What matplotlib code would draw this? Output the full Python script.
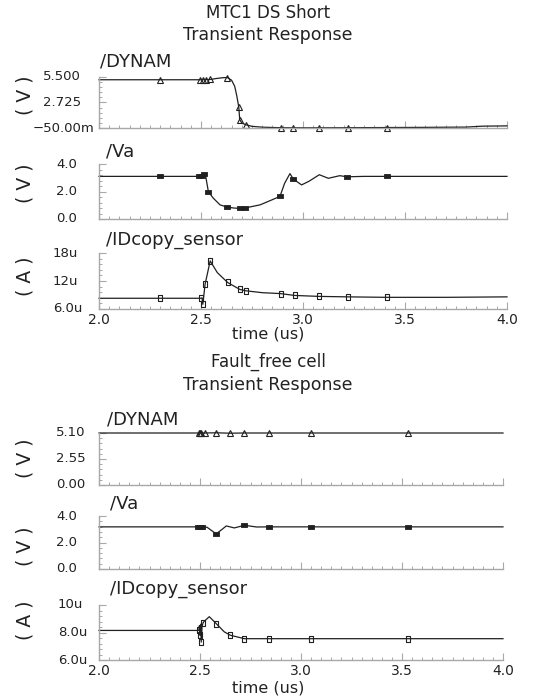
import numpy as np
import matplotlib.pyplot as plt
from matplotlib.ticker import MultipleLocator, AutoMinorLocator

W, H = 536, 697

# --- MTC1 DS Short ---
t_dyn1 = [2.0, 2.30, 2.495, 2.511, 2.525, 2.544, 2.58, 2.61, 2.629, 2.65, 2.665, 2.675, 2.685,
          2.69, 2.70, 2.72, 2.75, 2.80, 2.89, 2.95, 3.08, 3.22, 3.41, 3.60, 3.80, 3.88, 4.0]
v_dyn1 = [5.2, 5.2, 5.2, 5.2, 5.21, 5.23, 5.35, 5.43, 5.44, 5.15, 4.5, 3.5, 2.24,
          0.85, 0.5, 0.3, 0.13, 0.04, -0.02, -0.03, -0.03, -0.02, 0.0, 0.02, 0.05, 0.15, 0.18]
mk_dyn1 = [1, 2, 3, 4, 5, 8, 12, 13, 15, 18, 19, 20, 21, 22]

t_va1 = [2.0, 2.30, 2.49, 2.505, 2.515, 2.522, 2.536, 2.56, 2.593, 2.627, 2.66, 2.69, 2.715,
         2.79, 2.887, 2.91, 2.936, 2.953, 2.993, 3.03, 3.08, 3.124, 3.18, 3.217, 3.30, 3.41, 4.0]
v_va1 = [3.1, 3.1, 3.1, 3.15, 3.25, 3.2, 2.0, 1.52, 1.03, 0.87, 0.8, 0.77, 0.8,
         1.03, 1.64, 2.6, 3.3, 2.9, 2.48, 2.75, 3.22, 2.96, 3.15, 3.07, 3.1, 3.1, 3.1]
mk_va1 = [1, 2, 3, 4, 6, 9, 11, 12, 14, 17, 23, 25]

t_id1 = [2.0, 2.30, 2.50, 2.505, 2.509, 2.513, 2.52, 2.545, 2.58, 2.63, 2.69, 2.72, 2.80,
         2.89, 2.96, 3.08, 3.22, 3.41, 3.70, 4.0]
v_id1 = [8.3, 8.3, 8.3, 8.4, 7.0, 8.6, 11.3, 16.3, 13.8, 11.7, 10.2, 9.9, 9.5,
         9.3, 8.9, 8.7, 8.6, 8.5, 8.5, 8.6]
mk_id1 = [1, 2, 4, 6, 7, 9, 10, 11, 13, 14, 15, 16, 17]

# --- Fault_free cell ---
t_dyn2 = [2.0, 2.495, 2.50, 2.505, 2.525, 2.58, 2.65, 2.72, 2.84, 3.05, 3.53, 4.0]
v_dyn2 = [5.1, 5.1, 5.1, 5.1, 5.1, 5.12, 5.08, 5.1, 5.1, 5.1, 5.1, 5.1]
mk_dyn2 = [1, 2, 3, 4, 5, 6, 7, 8, 9, 10]

t_va2 = [2.0, 2.49, 2.50, 2.51, 2.535, 2.58, 2.61, 2.63, 2.67, 2.72, 2.78, 2.84, 3.05, 3.53, 4.0]
v_va2 = [3.18, 3.18, 3.18, 3.18, 3.15, 2.65, 3.0, 3.25, 3.1, 3.3, 3.17, 3.18, 3.18, 3.18, 3.18]
mk_va2 = [1, 2, 3, 5, 9, 11, 12, 13]

t_id2 = [2.0, 2.494, 2.497, 2.50, 2.503, 2.506, 2.51, 2.515, 2.52, 2.546, 2.58, 2.62, 2.65,
         2.72, 2.84, 3.05, 3.53, 4.0]
v_id2 = [8.15, 8.15, 8.5, 7.8, 8.6, 7.3, 8.4, 8.7, 8.8, 9.15, 8.65, 8.05, 7.8,
         7.55, 7.55, 7.55, 7.55, 7.55]
mk_id2 = [1, 3, 5, 7, 10, 12, 13, 14, 15, 16]

x_ticks = [2.0, 2.5, 3.0, 3.5, 4.0]
x_labels = ['2.0', '2.5', '3.0', '3.5', '4.0']

SPINE = '#a8a8a8'
LINE = '#202020'
TXT = '#222222'

fig = plt.figure(figsize=(W / 100, H / 100), dpi=100)


def box(x0, y0, x1, y1):
    return [x0 / W, 1 - y1 / H, (x1 - x0) / W, (y1 - y0) / H]


rect_mk = [(-1.6, -1), (1.6, -1), (1.6, 1), (-1.6, 1), (-1.6, -1)]
tall_mk = [(-1, -1.6), (1, -1.6), (1, 1.6), (-1, 1.6), (-1, -1.6)]


def panel(px, t, v, mk, kind, ylim, yticks, ylabels, lab_x, name, name_xy, unit, unit_y, xlab):
    ax = fig.add_axes(box(*px))
    if kind == 'tri':
        ax.plot(t, v, color=LINE, lw=0.9, marker='^', ms=4.5, mfc='none', mec=LINE,
                mew=0.8, markevery=mk, clip_on=False)
    elif kind == 'rect':
        ax.plot(t, v, color=LINE, lw=0.9, marker=rect_mk, ms=3.8, mfc=LINE, mec=LINE,
                mew=0.6, markevery=mk, clip_on=False)
    else:
        ax.plot(t, v, color=LINE, lw=0.9, marker=tall_mk, ms=4.2, mfc='none', mec=LINE,
                mew=0.8, markevery=mk, clip_on=False)
    ax.set_xlim(2.0, 4.0)
    ax.set_ylim(*ylim)
    for s in ['top', 'right']:
        ax.spines[s].set_visible(False)
    for s in ['left', 'bottom']:
        ax.spines[s].set_color(SPINE)
        ax.spines[s].set_linewidth(1.0)
    ax.set_xticks(x_ticks)
    ax.xaxis.set_minor_locator(MultipleLocator(0.05))
    ax.set_yticks(yticks)
    ax.yaxis.set_minor_locator(AutoMinorLocator(5))
    ax.tick_params(which='major', direction='in', length=5, width=0.8, color=SPINE)
    ax.tick_params(which='minor', direction='in', length=2.5, width=0.7, color=SPINE)
    ax.set_yticklabels([])
    for val, lab, lx in zip(yticks, ylabels, lab_x):
        ax.annotate(lab, xy=(lx, val), xycoords=('figure pixels', 'data'),
                    ha='left', va='center', fontsize=9.5, color=TXT, annotation_clip=False)
    if xlab:
        ax.set_xticklabels(x_labels, fontsize=10, color=TXT)
        ax.tick_params(axis='x', pad=3)
    else:
        ax.set_xticklabels([])
    fig.text(name_xy[0] / W, 1 - name_xy[1] / H, name, fontsize=13, color=TXT,
             ha='left', va='center')
    fig.text(25 / W, 1 - unit_y / H, unit, fontsize=13.5, color=TXT, rotation=90,
             ha='center', va='center')
    return ax


# top block
fig.text(268 / W, 1 - 13 / H, 'MTC1 DS Short', ha='center', va='center', fontsize=12, color=TXT)
fig.text(268 / W, 1 - 35 / H, 'Transient Response', ha='center', va='center', fontsize=12.5, color=TXT)
panel((99, 77, 507, 128), t_dyn1, v_dyn1, mk_dyn1, 'tri', (-0.05, 5.5),
      [5.5, 2.725, -0.05], ['5.500', '2.725', '\u221250.00m'], [43, 43, 33],
      '/DYNAM', (100, 61), '( V )', 95, False)
panel((99, 164, 507, 219), t_va1, v_va1, mk_va1, 'rect', (0.0, 4.0),
      [4.0, 2.0, 0.0], ['4.0', '2.0', '0.0'], [56, 56, 56],
      '/Va', (106, 152), '( V )', 183, False)
panel((99, 253, 507, 309), t_id1, v_id1, mk_id1, 'tall', (6.0, 18.0),
      [18.0, 12.0, 6.0], ['18u', '12u', '6.0u'], [53, 53, 53],
      '/IDcopy_sensor', (106, 240), '( A )', 276, True)
fig.text(268 / W, 1 - 334 / H, 'time (us)', ha='center', va='center', fontsize=11.5, color=TXT)

# bottom block
fig.text(268 / W, 1 - 362 / H, 'Fault_free cell', ha='center', va='center', fontsize=12, color=TXT)
fig.text(268 / W, 1 - 385 / H, 'Transient Response', ha='center', va='center', fontsize=12.5, color=TXT)
panel((99, 433, 503, 485), t_dyn2, v_dyn2, mk_dyn2, 'tri', (0.0, 5.1),
      [5.1, 2.55, 0.0], ['5.10', '2.55', '0.00'], [56, 56, 56],
      '/DYNAM', (107, 420), '( V )', 458, False)
panel((99, 516, 503, 569), t_va2, v_va2, mk_va2, 'rect', (0.0, 4.0),
      [4.0, 2.0, 0.0], ['4.0', '2.0', '0.0'], [56, 56, 56],
      '/Va', (110, 503), '( V )', 546, False)
panel((99, 605, 503, 660), t_id2, v_id2, mk_id2, 'tall', (6.0, 10.0),
      [10.0, 8.0, 6.0], ['10u', '8.0u', '6.0u'], [58, 58, 58],
      '/IDcopy_sensor', (110, 589), '( A )', 620, True)
fig.text(268 / W, 1 - 688 / H, 'time (us)', ha='center', va='center', fontsize=11.5, color=TXT)

fig.savefig('out.png', dpi=100, facecolor='white')
